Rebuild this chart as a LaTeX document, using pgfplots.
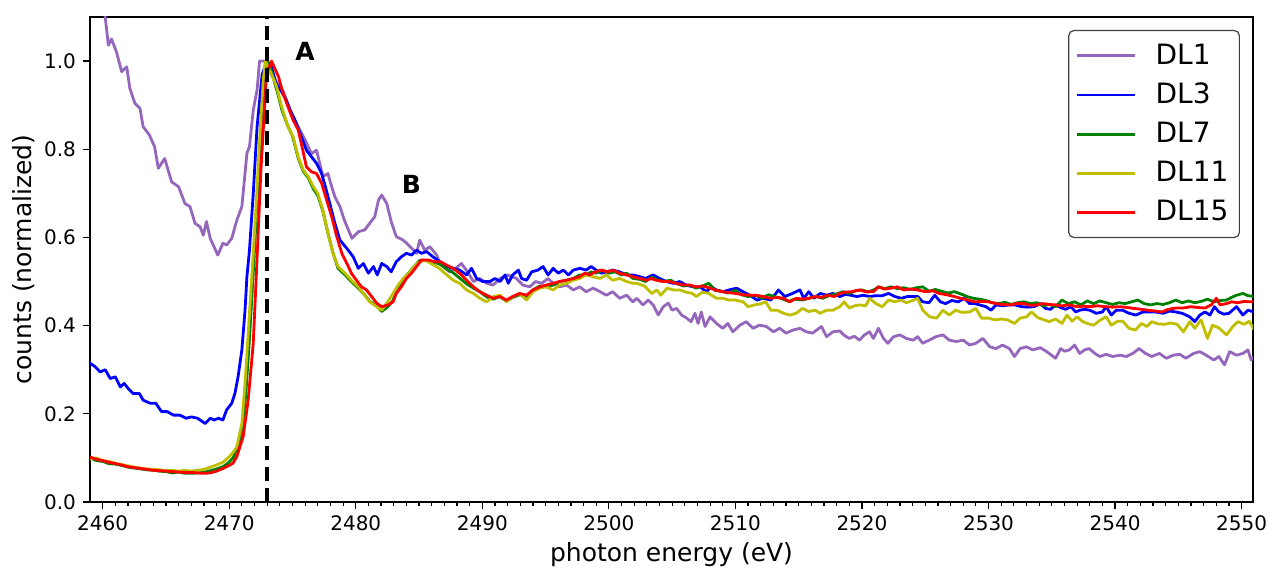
\documentclass[border=0pt]{standalone}
\usepackage{pgfplots}
\pgfplotsset{compat=1.18}
\usepackage{fontspec}
\setmainfont{DejaVu Sans}
\definecolor{cDLone}{HTML}{9467BD}
\definecolor{cDLthree}{HTML}{0000FF}
\definecolor{cDLseven}{HTML}{008000}
\definecolor{cDLeleven}{HTML}{BFBF00}
\definecolor{cDLfifteen}{HTML}{FF0000}
\begin{document}
\begin{tikzpicture}
\begin{axis}[
  scale only axis,
  width=581.5pt, height=242.5pt,
  xmin=2459, xmax=2550.9,
  ymin=0, ymax=1.1,
  axis line style={line width=0.6pt},
  every tick/.style={black, line width=0.6pt},
  tick align=outside,
  major tick length=3.5pt,
  minor tick length=2pt,
  xtick={2460,2470,...,2550},
  minor x tick num=9,
  ytick={0,0.2,0.4,0.6,0.8,1.0},
  xtick pos=bottom, ytick pos=left,
  /pgf/number format/assume math mode=true,
  xticklabel style={/pgf/number format/set thousands separator={}, font=\fontsize{10}{12}\selectfont},
  yticklabel style={/pgf/number format/.cd, fixed, fixed zerofill, precision=1, /tikz/.cd, font=\fontsize{10}{12}\selectfont},
  label style={font=\fontsize{12.5}{15}\selectfont},
  xlabel={photon energy (eV)},
  ylabel={counts (normalized)},
  xlabel style={at={(axis description cs:0.5,-0.109)}, anchor=center},
  ylabel style={at={(axis description cs:-0.0567,0.5)}, anchor=center},
  legend style={at={(rel axis cs:0.9888,0.9732)}, anchor=north east, draw=black!75, rounded corners=2.5pt, line width=0.6pt,
    font=\fontsize{14}{16}\selectfont, inner xsep=3.5pt, inner ysep=4.75pt, row sep=3.8pt,
    /tikz/every even column/.append style={column sep=7.5pt}},
  legend cell align=left,
  legend image code/.code={\draw[#1] (0pt,0pt) -- (29pt,0pt); \path (36.5pt,0pt);},
  every axis plot/.append style={line width=1.4pt, line join=round},
  clip=true,
]
\addplot[cDLone] coordinates {
(2459.9,1.16)(2460.2,1.10)(2460.45,1.036)(2460.7,1.05)(2461.1,1.02)(2461.5,0.976)(2461.9,0.987)(2462.15,0.938)(2462.55,0.904)(2462.95,0.893)(2463.2,0.851)(2463.7,0.832)(2464.1,0.806)(2464.4,0.757)(2464.9,0.779)(2465.45,0.726)(2466.0,0.715)(2466.5,0.677)(2466.9,0.670)(2467.3,0.632)(2467.7,0.624)(2467.95,0.605)(2468.2,0.636)(2468.5,0.598)(2469.1,0.56)(2469.5,0.587)(2469.8,0.583)(2470.2,0.598)(2470.6,0.639)(2471.0,0.670)(2471.4,0.791)(2471.6,0.806)(2471.9,0.889)(2472.2,0.934)(2472.4,1.0)(2472.8,1.0)
(2473.3,0.97)(2473.8,0.95)(2474.3,0.93)(2474.9,0.88)(2475.45,0.851)(2476.0,0.821)(2476.5,0.79)(2476.9,0.798)(2477.4,0.738)(2477.8,0.745)(2478.1,0.715)(2478.35,0.692)(2478.75,0.670)(2479.1,0.639)(2479.7,0.598)(2480.2,0.613)(2480.7,0.617)(2481.1,0.632)(2481.5,0.647)(2481.8,0.685)(2482.05,0.696)(2482.45,0.677)(2482.8,0.636)(2483.2,0.602)(2483.75,0.594)(2484.3,0.579)(2484.8,0.564)(2485.05,0.594)(2485.45,0.571)(2485.85,0.579)(2486.4,0.56)(2486.65,0.541)(2487.4,0.522)(2487.9,0.53)(2488.35,0.541)(2488.9,0.519)(2489.3,0.50)(2489.8,0.507)(2490.35,0.496)(2490.85,0.492)(2491.4,0.507)(2492.0,0.515)(2492.7,0.507)(2493.2,0.492)(2493.75,0.488)(2494.2,0.50)(2494.7,0.496)(2495.2,0.507)(2495.6,0.496)(2496.1,0.488)(2496.65,0.492)(2497.2,0.481)(2497.7,0.488)(2498.2,0.477)(2498.75,0.485)(2499.3,0.477)(2499.8,0.469)(2500.3,0.477)(2500.85,0.462)(2501.4,0.469)(2501.9,0.454)(2502.2,0.462)(2502.7,0.447)(2503.1,0.458)(2503.5,0.447)(2503.9,0.424)(2504.3,0.443)(2504.7,0.451)(2505.0,0.435)(2505.35,0.439)(2505.75,0.424)(2506.15,0.417)(2506.5,0.409)(2506.8,0.428)(2507.05,0.405)(2507.3,0.431)(2507.6,0.398)(2508.0,0.420)(2508.5,0.405)(2509.0,0.394)(2509.4,0.405)(2509.8,0.386)(2510.35,0.401)(2510.85,0.409)(2511.4,0.394)(2511.9,0.401)(2512.45,0.398)(2513.0,0.386)(2513.5,0.394)(2514.0,0.383)(2514.55,0.39)(2515.1,0.394)(2515.6,0.386)(2516.1,0.383)(2516.8,0.398)(2517.2,0.375)(2517.7,0.386)(2518.25,0.388)(2518.6,0.378)(2519.0,0.371)(2519.4,0.376)(2519.8,0.367)(2520.2,0.379)(2520.6,0.386)(2520.9,0.371)(2521.3,0.394)(2521.7,0.371)(2522.05,0.36)(2522.5,0.375)(2523.0,0.379)(2523.5,0.371)(2524.05,0.367)(2524.4,0.375)(2524.8,0.36)(2525.3,0.367)(2525.85,0.375)(2526.4,0.379)(2526.9,0.367)(2527.45,0.364)(2528.0,0.367)(2528.5,0.356)(2529.0,0.36)(2529.55,0.371)(2530.1,0.352)(2530.6,0.348)(2531.1,0.356)(2531.65,0.348)(2532.05,0.33)(2532.5,0.348)(2533.0,0.352)(2533.5,0.345)(2534.1,0.350)(2534.6,0.341)(2535.3,0.326)(2535.7,0.348)(2536.0,0.342)(2536.4,0.345)(2536.8,0.356)(2537.2,0.337)(2537.6,0.345)(2537.95,0.348)(2538.4,0.337)(2538.8,0.33)(2539.3,0.335)(2539.8,0.33)(2540.4,0.333)(2540.9,0.33)(2541.4,0.337)(2541.9,0.348)(2542.4,0.337)(2542.9,0.33)(2543.5,0.337)(2544.05,0.326)(2544.6,0.333)(2545.1,0.335)(2545.6,0.326)(2546.2,0.337)(2546.7,0.341)(2547.2,0.333)(2547.8,0.322)(2548.2,0.33)(2548.65,0.311)(2549.05,0.341)(2549.6,0.333)(2550.1,0.337)(2550.5,0.345)(2550.75,0.322)(2551.0,0.33)
};
\addlegendentry{DL1}
\addplot[cDLthree] coordinates {
(2459.0,0.315)(2459.4,0.307)(2459.8,0.295)(2460.2,0.300)(2460.6,0.28)(2461.0,0.284)(2461.4,0.261)(2461.7,0.269)(2462.0,0.258)(2462.4,0.246)(2462.9,0.246)(2463.2,0.231)(2463.75,0.224)(2464.2,0.224)(2464.65,0.205)(2465.1,0.205)(2465.6,0.197)(2466.1,0.197)(2466.6,0.19)(2467.0,0.193)(2467.5,0.19)(2468.1,0.178)(2468.5,0.19)(2468.8,0.186)(2469.15,0.19)(2469.5,0.186)(2469.8,0.209)(2470.2,0.224)(2470.45,0.246)(2470.7,0.284)(2471.0,0.345)(2471.25,0.435)(2471.4,0.511)(2471.6,0.571)(2471.9,0.70)(2472.2,0.85)(2472.6,0.97)(2473.0,1.0)(2473.3,0.99)(2473.7,0.95)(2474.15,0.93)(2474.5,0.912)(2474.8,0.89)(2475.2,0.866)(2475.6,0.836)(2476.1,0.798)(2476.5,0.783)(2476.9,0.768)(2477.3,0.745)(2477.6,0.715)(2477.95,0.677)(2478.35,0.632)(2478.75,0.594)(2479.3,0.575)(2479.8,0.556)(2480.2,0.53)(2480.6,0.541)(2481.0,0.519)(2481.4,0.534)(2481.7,0.515)(2482.05,0.541)(2482.45,0.534)(2482.8,0.522)(2483.2,0.545)(2483.6,0.556)(2484.0,0.564)(2484.4,0.56)(2484.8,0.571)(2485.2,0.564)(2485.6,0.568)(2486.1,0.556)(2486.65,0.545)(2487.2,0.534)(2487.7,0.53)(2488.2,0.526)(2488.75,0.515)(2489.15,0.53)(2489.55,0.507)(2490.05,0.50)(2490.6,0.50)(2491.0,0.507)(2491.4,0.50)(2491.8,0.515)(2492.05,0.496)(2492.4,0.515)(2492.85,0.526)(2493.1,0.507)(2493.5,0.503)(2493.9,0.522)(2494.4,0.526)(2494.8,0.534)(2495.2,0.515)(2495.6,0.53)(2496.0,0.519)(2496.4,0.526)(2496.8,0.515)(2497.2,0.526)(2497.7,0.53)(2498.2,0.526)(2498.6,0.534)(2499.0,0.526)(2499.4,0.519)(2499.8,0.522)(2500.3,0.526)(2500.85,0.522)(2501.4,0.515)(2501.9,0.515)(2502.45,0.511)(2502.9,0.507)(2503.5,0.515)(2504.0,0.507)(2504.55,0.50)(2505.1,0.496)(2505.6,0.50)(2506.1,0.492)(2506.65,0.488)(2507.2,0.488)(2507.7,0.477)(2508.1,0.488)(2508.5,0.481)(2509.0,0.477)(2509.5,0.481)(2510.1,0.485)(2510.6,0.477)(2511.15,0.469)(2511.7,0.458)(2512.2,0.462)(2512.8,0.458)(2513.4,0.481)(2513.9,0.466)(2514.5,0.473)(2515.1,0.481)(2515.4,0.462)(2515.8,0.477)(2516.2,0.462)(2516.7,0.473)(2517.2,0.469)(2517.7,0.473)(2518.25,0.466)(2518.7,0.471)(2519.1,0.469)(2519.6,0.466)(2520.1,0.469)(2520.6,0.466)(2521.1,0.468)(2521.6,0.468)(2522.1,0.473)(2522.6,0.466)(2523.1,0.462)(2523.6,0.466)(2524.4,0.466)(2524.8,0.454)(2525.3,0.452)(2525.75,0.469)(2526.2,0.454)(2526.6,0.45)(2527.1,0.457)(2527.6,0.454)(2528.1,0.462)(2528.5,0.45)(2528.9,0.45)(2529.3,0.447)(2529.8,0.443)(2530.2,0.435)(2530.6,0.447)(2531.1,0.445)(2531.6,0.447)(2532.1,0.447)(2532.6,0.443)(2533.1,0.442)(2533.6,0.443)(2534.1,0.45)(2534.5,0.439)(2534.9,0.437)(2535.3,0.447)(2535.7,0.441)(2536.1,0.437)(2536.5,0.443)(2536.9,0.431)(2537.2,0.435)(2537.6,0.437)(2538.0,0.435)(2538.5,0.428)(2539.0,0.431)(2539.3,0.443)(2539.7,0.424)(2540.1,0.435)(2540.6,0.435)(2541.1,0.428)(2541.65,0.424)(2542.2,0.431)(2542.7,0.431)(2543.2,0.431)(2543.8,0.428)(2544.3,0.433)(2544.8,0.431)(2545.3,0.428)(2545.9,0.42)(2546.3,0.409)(2546.7,0.424)(2547.1,0.431)(2547.5,0.424)(2547.85,0.443)(2548.2,0.431)(2548.6,0.426)(2549.0,0.428)(2549.6,0.443)(2550.1,0.424)(2550.5,0.435)(2551.0,0.431)
};
\addlegendentry{DL3}
\addplot[cDLseven] coordinates {
(2459,0.100)(2459.5,0.094)(2460,0.092)(2460.5,0.087)(2461,0.086)(2461.5,0.083)(2462,0.079)(2462.5,0.077)(2463,0.075)(2463.5,0.073)(2464,0.072)(2464.5,0.07)(2465,0.069)(2465.5,0.066)(2466,0.068)(2466.5,0.065)(2467,0.065)(2467.5,0.066)(2468,0.067)(2468.5,0.071)(2469,0.075)(2469.5,0.08)(2469.9,0.088)(2470.3,0.10)(2470.7,0.125)(2471.0,0.16)(2471.3,0.24)(2471.6,0.37)(2471.9,0.52)(2472.2,0.68)(2472.5,0.84)(2472.8,0.96)(2473.0,1.0)(2473.2,0.99)(2473.5,0.96)(2473.8,0.93)(2474.15,0.89)(2474.6,0.855)(2475.0,0.83)(2475.45,0.78)(2475.85,0.75)(2476.25,0.735)(2476.65,0.71)(2477.0,0.695)(2477.4,0.66)(2477.8,0.61)(2478.2,0.565)(2478.6,0.53)(2479.15,0.515)(2479.65,0.50)(2480.2,0.485)(2480.7,0.47)(2481.1,0.455)(2481.65,0.445)(2482.05,0.432)(2482.5,0.442)(2482.9,0.455)(2483.35,0.485)(2483.75,0.505)(2484.2,0.52)(2484.7,0.537)(2485.05,0.548)(2485.5,0.548)(2486.0,0.545)(2486.6,0.54)(2487.2,0.528)(2487.7,0.52)(2488.2,0.508)(2488.75,0.495)(2489.3,0.485)(2489.8,0.477)(2490.35,0.465)(2490.85,0.46)(2491.4,0.466)(2491.9,0.455)(2492.4,0.464)(2492.95,0.47)(2493.5,0.466)(2494.0,0.481)(2494.55,0.49)(2495.05,0.488)(2495.6,0.492)(2496.1,0.50)(2496.65,0.503)(2497.2,0.507)(2497.7,0.515)(2498.2,0.515)(2498.6,0.522)(2499.0,0.519)(2499.5,0.526)(2500.0,0.519)(2500.5,0.522)(2501.0,0.515)(2501.4,0.519)(2501.9,0.507)(2502.45,0.505)(2502.9,0.50)(2503.4,0.51)(2503.75,0.505)(2504.3,0.50)(2504.9,0.503)(2505.3,0.496)(2505.9,0.49)(2506.4,0.492)(2506.9,0.485)(2507.4,0.49)(2507.9,0.496)(2508.4,0.48)(2508.9,0.478)(2509.4,0.474)(2510.0,0.48)(2510.5,0.47)(2511.0,0.466)(2511.6,0.469)(2512.1,0.462)(2512.6,0.47)(2513.1,0.466)(2513.6,0.462)(2514.2,0.455)(2514.7,0.46)(2515.3,0.458)(2515.8,0.462)(2516.4,0.466)(2516.9,0.462)(2517.5,0.469)(2518.0,0.472)(2518.5,0.477)(2519.0,0.473)(2519.5,0.479)(2520.0,0.481)(2520.5,0.476)(2521.0,0.482)(2521.3,0.488)(2521.8,0.484)(2522.3,0.488)(2522.8,0.484)(2523.3,0.486)(2523.8,0.482)(2524.3,0.486)(2524.8,0.488)(2525.3,0.478)(2525.8,0.482)(2526.3,0.478)(2526.8,0.474)(2527.3,0.477)(2527.8,0.472)(2528.3,0.466)(2528.8,0.462)(2529.3,0.46)(2529.8,0.457)(2530.3,0.452)(2530.8,0.45)(2531.3,0.453)(2531.8,0.448)(2532.3,0.452)(2532.8,0.454)(2533.3,0.45)(2533.8,0.452)(2534.3,0.445)(2534.8,0.448)(2535.3,0.443)(2535.8,0.458)(2536.3,0.45)(2536.8,0.454)(2537.3,0.447)(2537.8,0.456)(2538.3,0.45)(2538.8,0.456)(2539.3,0.452)(2539.8,0.448)(2540.3,0.452)(2540.8,0.45)(2541.3,0.454)(2541.8,0.458)(2542.3,0.45)(2542.8,0.447)(2543.3,0.45)(2543.8,0.448)(2544.3,0.452)(2544.8,0.458)(2545.3,0.452)(2545.8,0.456)(2546.3,0.452)(2546.8,0.455)(2547.3,0.46)(2547.8,0.454)(2548.3,0.457)(2548.8,0.458)(2549.2,0.464)(2549.6,0.469)(2550.1,0.473)(2550.5,0.468)(2551.0,0.466)
};
\addlegendentry{DL7}
\addplot[cDLeleven] coordinates {
(2459,0.098)(2459.5,0.1)(2460,0.094)(2460.5,0.092)(2461,0.088)(2461.5,0.085)(2462,0.082)(2462.5,0.079)(2463,0.077)(2463.5,0.075)(2464,0.074)(2464.5,0.073)(2465,0.071)(2465.5,0.072)(2466,0.07)(2466.5,0.072)(2467,0.07)(2467.5,0.072)(2468,0.074)(2468.5,0.079)(2469,0.084)(2469.5,0.09)(2469.9,0.1)(2470.3,0.112)(2470.6,0.125)(2471.0,0.178)(2471.25,0.269)(2471.5,0.382)(2471.75,0.496)(2472.1,0.66)(2472.4,0.82)(2472.7,0.96)(2472.85,1.0)(2473.1,0.985)(2473.35,0.97)(2473.75,0.942)(2474.15,0.896)(2474.65,0.851)(2475.05,0.828)(2475.45,0.783)(2475.85,0.753)(2476.25,0.738)(2476.65,0.715)(2477.0,0.70)(2477.4,0.662)(2477.8,0.609)(2478.2,0.564)(2478.6,0.534)(2479.15,0.519)(2479.65,0.503)(2480.2,0.488)(2480.6,0.473)(2481.1,0.454)(2481.65,0.443)(2482.05,0.435)(2482.45,0.451)(2482.8,0.466)(2483.35,0.492)(2483.75,0.507)(2484.2,0.519)(2484.7,0.537)(2485.05,0.545)(2485.5,0.548)(2486.0,0.54)(2486.6,0.53)(2487.2,0.515)(2487.7,0.503)(2488.2,0.496)(2488.75,0.481)(2489.3,0.473)(2489.8,0.462)(2490.35,0.454)(2490.9,0.466)(2491.4,0.469)(2491.9,0.454)(2492.4,0.466)(2492.95,0.473)(2493.5,0.458)(2494.0,0.477)(2494.55,0.485)(2495.05,0.488)(2495.6,0.481)(2496.1,0.492)(2496.65,0.496)(2497.2,0.503)(2497.7,0.507)(2498.2,0.515)(2498.75,0.511)(2499.3,0.507)(2499.8,0.515)(2500.3,0.503)(2500.85,0.507)(2501.4,0.50)(2501.9,0.496)(2502.2,0.496)(2502.8,0.49)(2503.4,0.473)(2503.8,0.481)(2504.1,0.469)(2504.6,0.485)(2505.1,0.481)(2505.6,0.481)(2506.1,0.476)(2506.6,0.473)(2506.9,0.466)(2507.4,0.476)(2507.9,0.473)(2508.5,0.462)(2509.0,0.462)(2509.5,0.458)(2510.0,0.458)(2510.6,0.454)(2511.0,0.443)(2511.5,0.447)(2511.95,0.449)(2512.4,0.454)(2512.8,0.435)(2513.3,0.435)(2513.8,0.428)(2514.3,0.424)(2514.8,0.428)(2515.3,0.439)(2515.8,0.432)(2516.3,0.435)(2516.7,0.428)(2517.2,0.435)(2517.7,0.435)(2518.25,0.443)(2518.6,0.454)(2519.0,0.44)(2519.4,0.445)(2519.8,0.447)(2520.3,0.445)(2520.6,0.462)(2521.1,0.45)(2521.6,0.443)(2522.1,0.458)(2522.6,0.454)(2523.1,0.458)(2523.5,0.452)(2524.1,0.458)(2524.4,0.462)(2524.8,0.435)(2525.35,0.42)(2525.9,0.417)(2526.4,0.435)(2526.9,0.424)(2527.4,0.435)(2527.9,0.43)(2528.5,0.431)(2529.0,0.439)(2529.45,0.417)(2530.0,0.417)(2530.5,0.413)(2531.0,0.415)(2531.5,0.413)(2532.05,0.405)(2532.5,0.417)(2533.0,0.42)(2533.4,0.431)(2533.9,0.418)(2534.4,0.413)(2534.8,0.409)(2535.3,0.415)(2535.8,0.405)(2536.2,0.424)(2536.6,0.41)(2537.0,0.42)(2537.4,0.41)(2537.8,0.405)(2538.3,0.401)(2538.8,0.412)(2539.3,0.42)(2539.7,0.401)(2540.2,0.41)(2540.6,0.41)(2541.1,0.394)(2541.6,0.39)(2542.1,0.405)(2542.5,0.398)(2542.9,0.409)(2543.4,0.404)(2543.9,0.403)(2544.4,0.406)(2544.9,0.403)(2545.4,0.386)(2545.9,0.409)(2546.3,0.394)(2546.8,0.413)(2547.3,0.371)(2547.7,0.401)(2548.2,0.395)(2548.8,0.379)(2549.3,0.398)(2549.7,0.409)(2550.2,0.403)(2550.6,0.41)(2551.0,0.39)
};
\addlegendentry{DL11}
\addplot[cDLfifteen] coordinates {
(2459,0.102)(2459.5,0.097)(2460,0.094)(2460.5,0.09)(2461,0.087)(2461.5,0.084)(2462,0.08)(2462.5,0.078)(2463,0.076)(2463.5,0.074)(2464,0.072)(2464.5,0.071)(2465,0.07)(2465.5,0.069)(2466,0.068)(2466.5,0.067)(2467,0.067)(2467.5,0.066)(2468,0.065)(2468.5,0.066)(2469,0.07)(2469.5,0.076)(2470.0,0.083)(2470.3,0.088)(2470.6,0.103)(2471.1,0.148)(2471.5,0.231)(2471.9,0.36)(2472.15,0.52)(2472.5,0.75)(2472.95,0.972)(2473.35,1.0)(2473.5,0.99)(2473.9,0.964)(2474.25,0.927)(2474.65,0.896)(2475.05,0.866)(2475.45,0.844)(2475.7,0.813)(2476.1,0.76)(2476.5,0.749)(2476.9,0.745)(2477.3,0.723)(2477.7,0.685)(2478.1,0.647)(2478.5,0.602)(2478.9,0.564)(2479.3,0.541)(2479.65,0.519)(2480.05,0.503)(2480.45,0.488)(2480.85,0.481)(2481.25,0.466)(2481.65,0.451)(2482.05,0.443)(2482.55,0.447)(2482.95,0.454)(2483.2,0.473)(2483.6,0.488)(2484.0,0.507)(2484.4,0.519)(2484.8,0.534)(2485.2,0.549)(2485.7,0.549)(2486.25,0.545)(2486.7,0.545)(2487.2,0.537)(2487.7,0.53)(2488.2,0.519)(2488.75,0.503)(2489.3,0.488)(2489.8,0.477)(2490.35,0.469)(2490.85,0.462)(2491.4,0.466)(2491.9,0.458)(2492.4,0.466)(2492.95,0.473)(2493.5,0.469)(2494.0,0.481)(2494.55,0.488)(2495.05,0.492)(2495.6,0.496)(2496.1,0.50)(2496.65,0.503)(2497.2,0.507)(2497.7,0.511)(2498.1,0.519)(2498.5,0.515)(2498.9,0.522)(2499.4,0.526)(2499.9,0.522)(2500.3,0.526)(2500.85,0.519)(2501.4,0.515)(2501.9,0.511)(2502.45,0.507)(2503.0,0.503)(2503.3,0.507)(2503.75,0.503)(2504.3,0.50)(2504.8,0.50)(2505.3,0.496)(2505.9,0.492)(2506.4,0.492)(2506.9,0.488)(2507.4,0.49)(2508.0,0.485)(2508.5,0.48)(2509.0,0.477)(2509.5,0.475)(2510.0,0.473)(2510.6,0.47)(2511.15,0.469)(2511.6,0.469)(2512.2,0.466)(2512.8,0.462)(2513.3,0.464)(2513.8,0.462)(2514.3,0.454)(2514.8,0.462)(2515.3,0.46)(2515.8,0.462)(2516.3,0.466)(2516.8,0.464)(2517.3,0.469)(2517.8,0.466)(2518.25,0.473)(2518.7,0.476)(2519.2,0.477)(2519.8,0.481)(2520.3,0.477)(2520.9,0.477)(2521.3,0.488)(2521.8,0.483)(2522.3,0.485)(2522.8,0.488)(2523.3,0.481)(2523.8,0.483)(2524.4,0.481)(2525.0,0.477)(2525.6,0.479)(2526.1,0.473)(2526.7,0.47)(2527.3,0.466)(2527.8,0.462)(2528.4,0.458)(2528.9,0.454)(2529.5,0.455)(2530.0,0.454)(2530.6,0.45)(2531.1,0.448)(2531.7,0.447)(2532.2,0.45)(2532.8,0.45)(2533.3,0.446)(2533.8,0.447)(2534.3,0.45)(2534.8,0.448)(2535.3,0.447)(2535.8,0.445)(2536.4,0.447)(2537.0,0.443)(2537.5,0.444)(2538.0,0.443)(2538.6,0.445)(2539.2,0.443)(2539.8,0.442)(2540.4,0.443)(2541.0,0.441)(2541.5,0.439)(2542.1,0.437)(2542.6,0.435)(2543.2,0.433)(2543.7,0.431)(2544.2,0.437)(2544.8,0.44)(2545.4,0.44)(2546.0,0.443)(2546.6,0.441)(2547.1,0.44)(2547.6,0.447)(2548.0,0.462)(2548.3,0.447)(2548.8,0.45)(2549.2,0.454)(2549.7,0.452)(2550.2,0.455)(2550.6,0.454)(2551.0,0.454)
};
\addlegendentry{DL15}
\addplot[black, line width=2pt, dash pattern=on 7pt off 3.5pt, forget plot] coordinates {(2473,0) (2473,1.1)};
\node[font=\fontsize{12.5}{15}\selectfont\bfseries] at (axis cs:2476,1.023) {A};
\node[font=\fontsize{12.5}{15}\selectfont\bfseries] at (axis cs:2484.4,0.721) {B};
\coordinate (bbll) at (rel axis cs:-0.0774,-0.1381);
\coordinate (bbur) at (rel axis cs:1.01376,1.03505);
\end{axis}
\pgfresetboundingbox
\path[use as bounding box] (bbll) rectangle (bbur);
\end{tikzpicture}
\end{document}
